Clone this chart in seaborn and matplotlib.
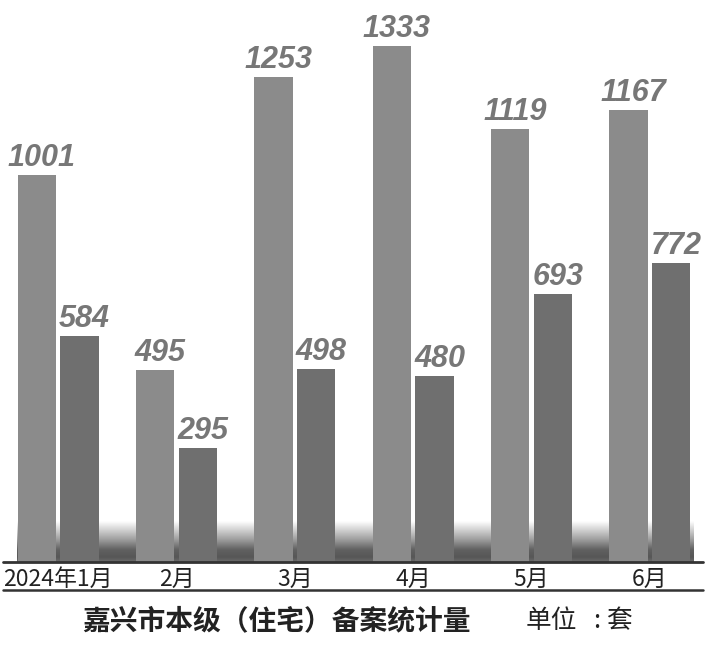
import numpy as np
import pandas as pd
import seaborn as sns
import matplotlib.pyplot as plt
from matplotlib.lines import Line2D

months = ['2024年1月', '2月', '3月', '4月', '5月', '6月']
series_a = [1001, 495, 1253, 1333, 1119, 1167]
series_b = [584, 295, 498, 480, 693, 772]

df = pd.DataFrame({
    'month': months * 2,
    'value': series_a + series_b,
    'series': ['a'] * len(months) + ['b'] * len(months),
})

sns.set_style('white')
plt.rcParams['font.family'] = ['Noto Sans CJK SC', 'DejaVu Sans']

fig = plt.figure(figsize=(7.08, 6.48), dpi=100)
ax = fig.add_axes([0, 86 / 648, 1, 562 / 648])

# soft grey shadow band behind the bars
rows = np.linspace(0, 1, 200)
shade = np.interp(rows, [0, 0.12, 0.3, 0.55, 1.0], [0.42, 0.34, 0.38, 0.62, 1.0])
ax.imshow(shade[:, None], extent=[-0.35, 5.36, 0, 105], origin='lower',
          aspect='auto', cmap='gray', vmin=0, vmax=1, zorder=0.5,
          interpolation='bilinear')

sns.barplot(data=df, x='month', y='value', hue='series',
            palette=['#8b8b8b', '#6f6f6f'], saturation=1,
            width=0.72, gap=0.1, errorbar=None, legend=False, ax=ax,
            linewidth=0)

for cont in ax.containers:
    for bar in cont:
        h = bar.get_height()
        ax.annotate(f'{int(h)}', (bar.get_x() + bar.get_width() / 2, h),
                    xytext=(5, 9), textcoords='offset pixels',
                    ha='center', va='baseline', fontsize=22,
                    style='italic', weight='bold', color='#777777',
                    family=['Liberation Sans Narrow', 'Liberation Sans'])

ax.set_xlim(-0.49, 5.49)
ax.set_ylim(0, 1452)
ax.set_xlabel('')
ax.set_ylabel('')
ax.set_yticks([])
ax.tick_params(axis='x', length=0, pad=4, labelsize=16.5, colors='#222222')
sns.despine(ax=ax, left=True, bottom=True)

ax.axhline(0, xmin=3 / 708, xmax=703 / 708, color='#333333', lw=2,
           clip_on=False, zorder=3)
fig.add_artist(Line2D([3 / 708, 703 / 708], [58 / 648, 58 / 648],
                      color='#333333', lw=1.8))

fig.text(82 / 708, 27 / 648, '嘉兴市本级（住宅）备案统计量', fontsize=20,
         weight='bold', color='#222222', ha='left', va='center')
fig.text(526 / 708, 27 / 648, '单位', fontsize=18.5,
         color='#222222', ha='left', va='center')
fig.text(597 / 708, 27 / 648, ':', fontsize=18.5,
         color='#222222', ha='center', va='center')
fig.text(606 / 708, 27 / 648, '套', fontsize=18.5,
         color='#222222', ha='left', va='center')

plt.savefig('out.png', dpi=100)
